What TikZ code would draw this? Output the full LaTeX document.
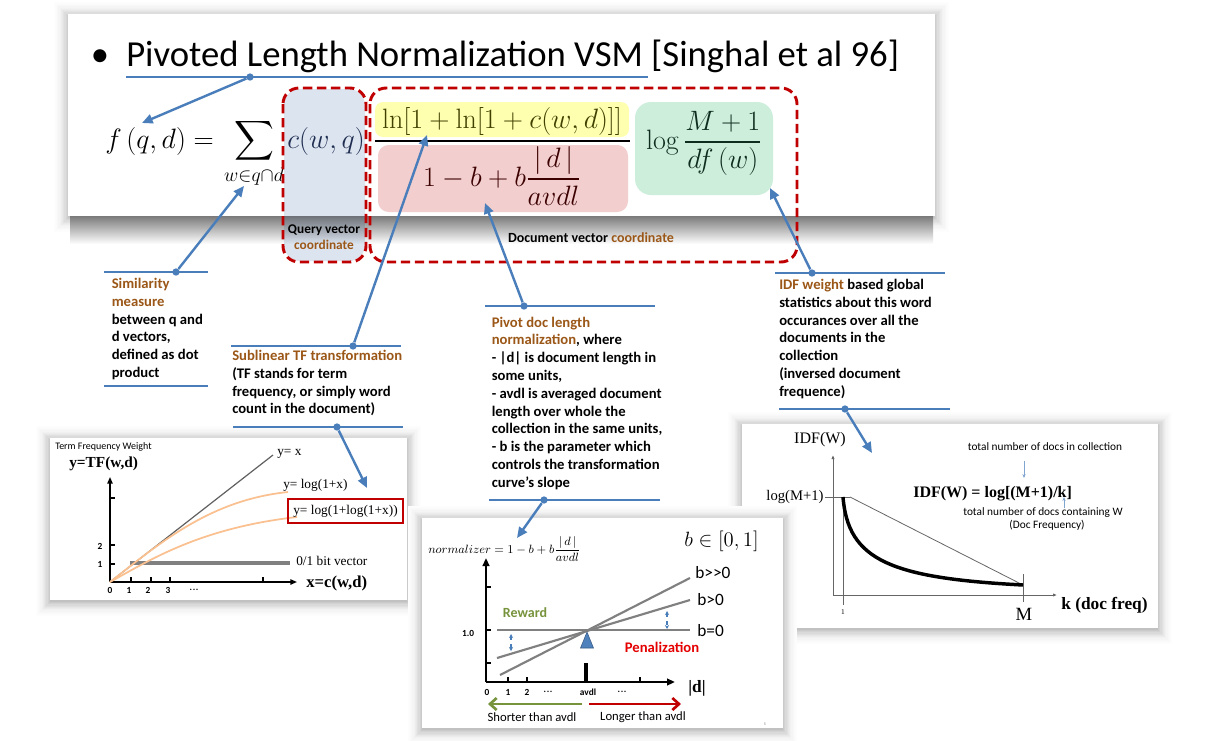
\RequirePackage{fix-cm}
\documentclass[tikz,border=0pt]{standalone}
\usepackage{amsmath}
\usepackage[no-math]{fontspec}
\setmainfont{Carlito}
\newfontfamily\tnr{Liberation Serif}
\usetikzlibrary{arrows.meta,calc}
\definecolor{lblue}{RGB}{74,126,187}
\definecolor{brn}{RGB}{155,87,23}
\definecolor{dred}{RGB}{192,0,0}
\definecolor{qfill}{RGB}{220,228,240}
\definecolor{yfill}{RGB}{255,255,176}
\definecolor{pfill}{RGB}{242,206,206}
\definecolor{gfill}{RGB}{206,238,220}
\definecolor{orng}{RGB}{250,192,143}
\definecolor{rgreen}{RGB}{119,147,60}
\definecolor{tblue}{RGB}{79,129,189}
\definecolor{numc}{RGB}{64,64,0}
\definecolor{denc}{RGB}{60,0,0}
\definecolor{grnc}{RGB}{15,45,30}
\definecolor{qc}{RGB}{30,45,80}
% opaque ring shadow: x1 y1 x2 y2 yoffset maxpercent
\newcommand\ringshadow[6]{\foreach \k in {12,...,0}{\pgfmathsetmacro\pc{#6*(1-\k/13)*(1-\k/13)+0.5}\fill[black!\pc] (#1-\k*1.2,#2-\k*1.2+#5) rectangle (#3+\k*1.2,#4+\k*1.2+#5);}}
\newcommand\tdots{.\kern0.5pt.\kern0.5pt.}
\begin{document}
\begin{tikzpicture}[x=0.75pt,y=-0.75pt,
  conn/.style={draw=lblue,line width=1.6pt},
  arr/.style={draw=lblue,line width=1.8pt,-{Triangle[length=8pt,width=7pt]}},
  dot/.style={circle,fill=lblue,inner sep=0pt,minimum size=5.5pt},
  ann/.style={font=\fontsize{11}{13.35}\selectfont\bfseries,align=left,anchor=north west,inner sep=0pt},
  dbox/.style={draw=dred,line width=2.2pt,dash pattern=on 7pt off 3.5pt,rounded corners=12pt},
  fml/.style={font=\fontsize{21}{25}\selectfont,inner sep=0pt},
  ser/.style={font=\tnr\fontsize{10}{12}\selectfont,inner sep=0pt},
  tk/.style={font=\fontsize{7}{8}\selectfont\bfseries,inner sep=0pt},
  gline/.style={draw=gray,line width=1.6pt},
  thin/.style={draw=gray!80!black,line width=0.6pt},
]
\useasboundingbox (0,0) rectangle (1206,740);
\fill[white] (0,0) rectangle (1206,740);

% ---------- shadows and panels ----------
\ringshadow{68}{14}{935}{216}{2}{22}
\shade[top color=black!52,bottom color=white] (70,216) rectangle (933,244);
\fill[white] (68,14) rectangle (935,216);
\ringshadow{50}{438}{407}{600}{2}{24}
\fill[white] (50,438) rectangle (407,600);
\ringshadow{742}{424}{1158}{628}{2}{24}
\fill[white] (742,424) rectangle (1158,628);
\ringshadow{422}{518}{783}{728}{2}{24}
\fill[white] (422,518) rectangle (783,728);

% ---------- top slide ----------
\fill[qfill,rounded corners=12pt] (284,89) rectangle (365,261);
\begin{scope}
\clip[rounded corners=12pt] (284,89) rectangle (365,261);
\shade[top color=qfill!50!black,bottom color=qfill] (280,216) rectangle (370,244);
\end{scope}
\fill[yfill,rounded corners=6pt] (375,102) rectangle (629,137);
\fill[pfill,rounded corners=8pt] (378,145) rectangle (628,212);
\fill[gfill,rounded corners=12pt] (635,102) rectangle (773,195);

\node[font=\fontsize{27.5}{32}\selectfont,anchor=base,inner sep=0pt] (bul) at (100,66) {•};
\node[font=\fontsize{27.5}{32}\selectfont,anchor=base west,inner sep=0pt] (title) at (126,66) {Pivoted Length Normalization VSM [Singhal et al 96]};

\node[fml,anchor=base west] (fqd) at (105,148) {$f\,(q,d) =$};
\node[fml] (sum) at (254,141) {$\displaystyle\sum$};
\node[fml] (sumsub) at (254,177) {$\scriptstyle w\in q\cap d$};
\node[fml,anchor=base,text=qc] (cwq) at (326,148) {$c(w,q)$};
\node[fml,anchor=base,text=numc] (num) at (502,128) {$\ln[1+\ln[1+c(w,d)]]$};
\draw[line width=0.9pt] (375,141) -- (630,141);
\node[fml,anchor=base,text=denc] (den) at (502,186) {$1-b+b\dfrac{|\,d\,|}{avdl}$};
\node[fml,anchor=base,text=grnc] (idff) at (704,149) {$\log\dfrac{M+1}{df\,(w)}$};

\node[font=\fontsize{10}{11.8}\selectfont\bfseries,align=center,inner sep=0pt] (qv) at (324,237) {Query vector\\\textcolor{brn}{coordinate}};
\node[font=\fontsize{10.5}{12}\selectfont\bfseries,inner sep=0pt] (dv) at (591,238) {Document vector \textcolor{brn}{coordinate}};

\draw[dbox] (283,88) rectangle (366,262);
\draw[dbox] (370,88) rectangle (797,262);

% ---------- TF panel ----------
\node[font=\fontsize{7.5}{9}\selectfont,anchor=west,inner sep=0pt] (tfw) at (55,447) {Term Frequency Weight};
\node[font=\tnr\bfseries\fontsize{11.5}{13}\selectfont,anchor=west,inner sep=0pt] (tfy) at (69,464) {y=TF(w,d)};
\coordinate (tfo) at (110,582);
\coordinate (tfyt) at (110,477);
\coordinate (tfxt) at (297,582);
\draw[line width=1.1pt,-{Triangle[length=5pt,width=4pt]}] (tfo) -- (tfyt);
\draw[line width=1.1pt,-{Triangle[length=5pt,width=4pt]}] (tfo) -- (tfxt);
\foreach \y in {498,545,564} \draw[line width=1pt] (110,\y) -- (115,\y);
\foreach \x in {131,151,170,263} \draw[line width=1pt] (\x,582) -- (\x,577);
\node[tk] (x0) at (110,590) {0};
\node[tk] (x1) at (129,590) {1};
\node[tk] (x2) at (148,590) {2};
\node[tk] (x3) at (168,590) {3};
\node[tk] (xd) at (194,590) {\tdots};
\node[tk] (t2) at (100,546) {2};
\node[tk] (t1) at (100,564) {1};
\node[font=\tnr\bfseries\fontsize{12.5}{14}\selectfont,anchor=west,inner sep=0pt] (xcw) at (306,583) {x=c(w,d)};
\draw[gray,line width=2.6pt] (130,563) coordinate (bv1) -- (290,563) coordinate (bv2);
\draw[gray!75!black,line width=0.9pt] (tfo) -- (273,455) coordinate (yxe);
\draw[orng,line width=1.3pt] (tfo) .. controls (160,543) and (210,500) .. (288,492) coordinate (l1e);
\draw[orng,line width=1.3pt] (tfo) .. controls (150,560) and (200,528) .. (297,517) coordinate (l2e);
\node[ser,anchor=west] (lyx) at (277,454) {y= x};
\node[ser,anchor=west] (ly1) at (283,485) {y= log(1+x)};
\node[ser,anchor=center,draw=dred,line width=1.1pt,minimum width=86pt,minimum height=18pt] (ly2) at (345.5,511) {y= log(1+log(1+x))};
\node[ser,anchor=west] (lbv) at (296,561) {0/1 bit vector};

% ---------- IDF panel ----------
\node[font=\tnr\fontsize{12}{14}\selectfont,inner sep=0pt] (idfy) at (820,440) {IDF(W)};
\draw[thin,-{Latex[length=3pt,width=2.5pt]}] (833,595) -- (833,455);
\draw[thin,-{Latex[length=3pt,width=2.5pt]}] (833,595) -- (1057,595);
\node[font=\tnr\fontsize{11}{13}\selectfont,inner sep=0pt] (lgm) at (795,497) {log(M+1)};
\draw[thin] (825,497) -- (850,497);
\draw[thin] (843,497) -- (843,605);
\draw[thin] (850,497) -- (1023,585);
\draw[thin] (1023,574) -- (1023,602);
\draw[line width=2.6pt] (843,497) .. controls (848,560) and (890,578) .. (1023,585);
\node[font=\tnr\fontsize{5.5}{6}\selectfont,inner sep=0pt] (one) at (843,612) {1};
\node[font=\tnr\fontsize{14}{16}\selectfont,inner sep=0pt] (mm) at (1024,614) {M};
\node[font=\tnr\bfseries\fontsize{13}{15}\selectfont,anchor=west,inner sep=0pt] (kdf) at (1061,605) {k (doc freq)};
\node[font=\tnr\bfseries\fontsize{12}{14}\selectfont,anchor=west,inner sep=0pt] (idfeq) at (913,494) {IDF(W) = log[(M+1)/k]};
\node[font=\fontsize{8.5}{9}\selectfont,inner sep=0pt] (tn1) at (1045,447) {total number of docs in collection};
\node[font=\fontsize{8.5}{9}\selectfont,inner sep=0pt] (tn2) at (1043,513) {total number of docs containing W};
\node[font=\fontsize{8.5}{9}\selectfont,inner sep=0pt] (tn3) at (1047,525) {(Doc Frequency)};
\draw[lblue!70,line width=0.5pt,-{Stealth[length=3pt,width=2.5pt]}] (1024,461) coordinate (a1s) -- (1024,478) coordinate (a1e);
\draw[lblue!70,line width=0.5pt,-{Stealth[length=3pt,width=2.5pt]}] (1064,508) coordinate (a2s) -- (1064,497) coordinate (a2e);

% ---------- pivot panel ----------
\node[font=\fontsize{9}{11}\selectfont,anchor=base west,inner sep=0pt] (nrm) at (428,553) {$normalizer=1-b+b\dfrac{|\,d\,|}{avdl}$};
\node[font=\fontsize{15.5}{18}\selectfont,anchor=base west,inner sep=0pt] (b01) at (684,546) {$b\in[0,1]$};
\draw[line width=1.5pt,-{Triangle[length=6pt,width=5pt]}] (486,682) -- (486,558);
\draw[line width=1.5pt,-{Triangle[length=6pt,width=5pt]}] (486,682) -- (675,682);
\foreach \y in {587,630,663} \draw[line width=1.2pt] (486,\y) -- (491,\y);
\foreach \x in {508,527,640} \draw[line width=1.2pt] (\x,682) -- (\x,677);
\node[tk] (q0) at (487,692) {0};
\node[tk] (q1) at (508,692) {1};
\node[tk] (q2) at (527,692) {2};
\node[tk] (qd1) at (548,692) {\tdots};
\node[tk] (qav) at (588,692) {avdl};
\node[tk] (qd2) at (622,692) {\tdots};
\node[tk] (p10) at (468,633) {1.0};
\node[font=\tnr\bfseries\fontsize{13}{15}\selectfont,inner sep=0pt] (dd) at (697,688) {|d|};
\draw[line width=2.5pt] (586,663) -- (586,682);
\draw[gline] (497,630) -- (690,630);
\draw[gline] (497,658) -- (690,600);
\draw[gline] (500,675) -- (690,578);
\node[font=\fontsize{13}{15}\selectfont,anchor=west,inner sep=0pt] (lb2) at (695,573) {b>{}>0};
\node[font=\fontsize{13}{15}\selectfont,anchor=west,inner sep=0pt] (lb1) at (697,600) {b>0};
\node[font=\fontsize{13}{15}\selectfont,anchor=west,inner sep=0pt] (lb0) at (697,631) {b=0};
\fill[tblue,draw=tblue!70!black,line width=0.4pt] (587,632) -- (593.5,648) -- (580.5,648) -- cycle;
\node[font=\fontsize{10.5}{12}\selectfont\bfseries,text=rgreen,inner sep=0pt] (rew) at (525,613) {Reward};
\node[font=\fontsize{11}{13}\selectfont\bfseries,text=red!90!black,inner sep=0pt] (pen) at (662,647) {Penalization};
\draw[lblue,dashed,line width=0.8pt,{Stealth[length=3pt,width=3pt]}-{Stealth[length=3pt,width=3pt]}] (511,634) -- (511,651);
\draw[lblue,dashed,line width=0.8pt,{Stealth[length=3pt,width=3pt]}-{Stealth[length=3pt,width=3pt]}] (667,611) -- (667,629);
\draw[rgreen,line width=2pt,-{Straight Barb[length=5pt,width=9pt]}] (582,704) -- (488,704);
\draw[dred,line width=2pt,-{Straight Barb[length=5pt,width=9pt]}] (589,704) -- (681,704);
\node[font=\fontsize{9.5}{11}\selectfont,inner sep=0pt] (sh) at (532,717) {Shorter than avdl};
\node[font=\fontsize{9.5}{11}\selectfont,inner sep=0pt] (lo) at (643,717) {Longer than avdl};
\node[font=\fontsize{3}{3}\selectfont,text=gray,inner sep=0pt] (pg) at (765,724) {5};

% ---------- annotations ----------
\node[ann] (simt) at (111.5,278) {\textcolor{brn}{Similarity}\\\textcolor{brn}{measure}\\between q and\\d vectors,\\defined as dot\\product};
\node[ann] (subt) at (232,350) {\textcolor{brn}{Sublinear TF transformation}\\(TF stands for term\\frequency, or simply word\\count in the document)};
\node[ann] (pivt) at (491.5,316.5) {\textcolor{brn}{Pivot doc length}\\\textcolor{brn}{normalization}, where\\- |d| is document length in\\some units,\\- avdl is averaged document\\length over whole the\\collection in the same units,\\- b is the parameter which\\controls the transformation\\curve's slope};
\node[ann] (idft) at (779,279) {\textcolor{brn}{IDF weight} based global\\statistics about this word\\occurances over all the\\documents in the\\collection\\(inversed document\\frequence)};

% connectors
\draw[conn] (126,77) coordinate (u1) -- (648,77) coordinate (u2);
\node[dot] (d0) at (250,77) {};
\coordinate (e0) at (142,123);
\draw[arr] (d0) -- (e0);

\draw[conn] (104,272) coordinate (s1) -- (208,272) coordinate (s2);
\draw[conn] (104,386) coordinate (s3) -- (208,386) coordinate (s4);
\node[dot] (d1) at (176,272) {};
\coordinate (e1) at (244,186);
\draw[arr] (d1) -- (e1);

\draw[conn] (231,346) coordinate (t1a) -- (401,346) coordinate (t1b);
\draw[conn] (233,427) coordinate (t2a) -- (403,427) coordinate (t2b);
\node[dot] (d2) at (353,346) {};
\node[dot] (d3) at (337,427) {};
\coordinate (e2) at (427,135);
\coordinate (e3) at (367,488);
\draw[arr] (d2) -- (e2);
\draw[arr] (d3) -- (e3);

\draw[conn] (485,306) coordinate (p1a) -- (655,306) coordinate (p1b);
\draw[conn] (489,500) coordinate (p2a) -- (660,500) coordinate (p2b);
\node[dot] (d4) at (524,306) {};
\node[dot] (d5) at (544,500) {};
\coordinate (e4) at (485,203);
\coordinate (e5) at (517,538);
\draw[arr] (d4) -- (e4);
\draw[arr] (d5) -- (e5);

\draw[conn] (775,273) coordinate (i1a) -- (945,273) coordinate (i1b);
\draw[conn] (779,409) coordinate (i2a) -- (950,409) coordinate (i2b);
\node[dot] (d6) at (812,273) {};
\node[dot] (d7) at (845,409) {};
\coordinate (e6) at (770,188);
\coordinate (e7) at (872,453);
\draw[arr] (d6) -- (e6);
\draw[arr] (d7) -- (e7);
\end{tikzpicture}
\end{document}
